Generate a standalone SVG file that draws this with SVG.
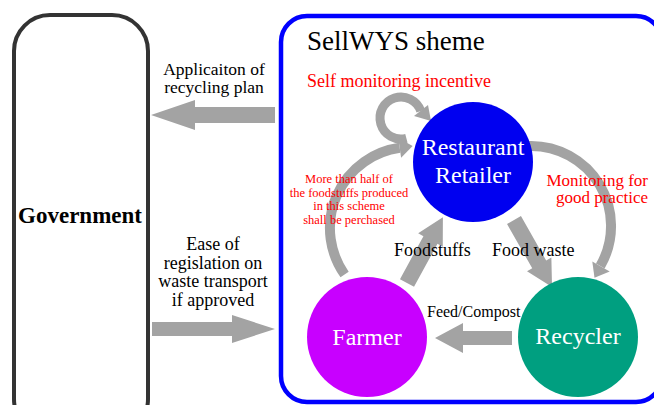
<svg xmlns="http://www.w3.org/2000/svg" width="654" height="405" viewBox="0 0 654 405" font-family="'Liberation Serif','Times New Roman','Nimbus Roman','DejaVu Serif',serif">
<style>
.arr{fill:#a3a3a3;stroke:none}
.band{fill:none;stroke:#a3a3a3}
.lbl{font-size:18px;fill:#000}
.red{fill:#ff0000}
.node{fill:#fff;font-size:24px;text-anchor:middle}
.mid{text-anchor:middle}
</style>
<rect width="654" height="405" fill="#fff"/>
<g id="government">
<rect x="14" y="15" width="134" height="420" rx="36" fill="#fff" stroke="#333" stroke-width="4"/>
<text x="80" y="223" font-size="23" font-weight="bold" class="mid">Government</text>
</g>
<g id="scheme">
<rect x="281" y="16" width="381" height="386" rx="26" fill="#fff" stroke="#0000ff" stroke-width="4.5"/>
<text x="307" y="50" font-size="27">SellWYS sheme</text>
</g>
<g id="connectors">
<polygon class="arr" points="151,115 195,100 195,107 275,107 275,123 195,123 195,130"/>
<polygon class="arr" points="152,322 232,322 232,315 275,329 232,343 232,336 152,336"/>
<polygon class="arr" points="435,338 463,323 463,331 512,331 512,345 463,345 463,353"/>
<polygon class="arr" transform="translate(407,283) rotate(-61.4)" points="0,-8 49,-8 49,-14 75,0 49,14 49,8 0,8"/>
<polygon class="arr" transform="translate(514,220) rotate(60.4)" points="0,-8 51,-8 51,-14 77,0 51,14 51,8 0,8"/>
<path class="band" stroke-width="9" d="M406.4,138.3 A21 21 0 1 1 420.8,111"/>
<polygon class="arr" points="414,116 428,105 431,121"/>
<path class="band" stroke-width="10" d="M344.6,274.5 A81 81 0 0 1 399.7,147.8"/>
<polygon class="arr" points="401.1,157.7 398.3,137.9 412.6,146"/>
<path class="band" stroke-width="10" d="M528.2,146 A80 80 0 0 1 600.3,266"/>
<polygon class="arr" points="592.3,261.5 609.7,271.5 594.5,277.8"/>
</g>
<g id="labels">
<text class="mid" x="214" y="74.5" font-size="17.5">Applicaiton of</text>
<text class="mid" x="214" y="93" font-size="17.5">recycling plan</text>
<text class="lbl mid" x="213" y="250">Ease of</text>
<text class="lbl mid" x="213" y="268.5">regislation on</text>
<text class="lbl mid" x="213" y="287">waste transport</text>
<text class="lbl mid" x="213" y="305.5">if approved</text>
<text class="lbl red" x="307" y="87">Self monitoring incentive</text>
<g class="red mid" font-size="12.5">
<text x="349" y="183">More than half of</text>
<text x="349" y="196.5">the foodstuffs produced</text>
<text x="349" y="210">in this scheme</text>
<text x="349" y="223.5">shall be perchased</text>
</g>
<text class="red" x="648" y="185.5" font-size="17" text-anchor="end">Monitoring for</text>
<text class="red" x="648" y="203" font-size="17" text-anchor="end">good practice</text>
<text class="lbl" x="394" y="256">Foodstuffs</text>
<text class="lbl" x="492" y="256">Food waste</text>
<text x="427" y="317" font-size="16">Feed/Compost</text>
</g>
<g id="retailer">
<circle cx="473" cy="162" r="60" fill="#0000f0"/>
<text class="node" x="473" y="155">Restaurant</text>
<text class="node" x="473" y="183">Retailer</text>
</g>
<g id="farmer">
<circle cx="367" cy="337" r="60" fill="#c800ff"/>
<text class="node" x="367" y="345">Farmer</text>
</g>
<g id="recycler">
<circle cx="578" cy="337" r="60" fill="#009f80"/>
<text class="node" x="578" y="344">Recycler</text>
</g>
</svg>
